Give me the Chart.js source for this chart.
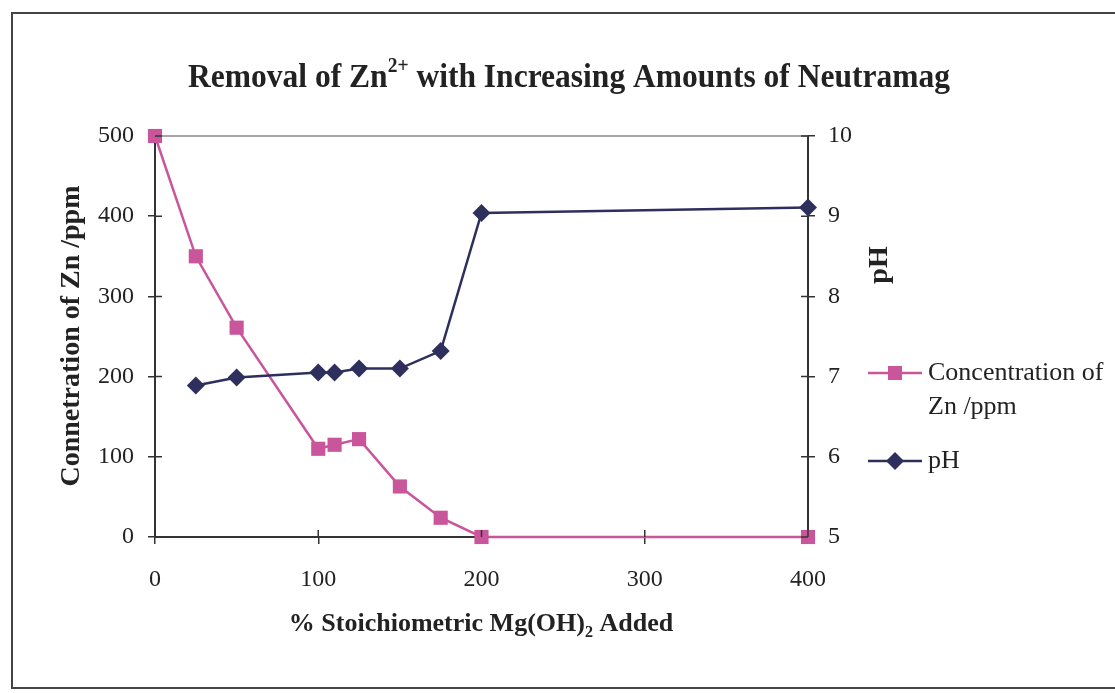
<!DOCTYPE html>
<html>
<head>
<meta charset="utf-8">
<script src="https://cdn.jsdelivr.net/npm/chart.js@4.4.1/dist/chart.umd.min.js"></script>
<style>
  html, body { margin: 0; padding: 0; background: #fff; }
  #wrap { position: relative; width: 1115px; height: 693px; }
  #frame { position: absolute; left: 11px; top: 12px; width: 1120px; height: 677px; border: 2px solid #444; border-right: none; box-sizing: border-box; }
  canvas { position: absolute; left: 0; top: 0; }
</style>
</head>
<body>
<div id="wrap">
  <div id="frame"></div>
  <canvas id="chart" width="1115" height="693"></canvas>
</div>
<script>
// data
const pctAdded = [0, 25, 50, 100, 110, 125, 150, 175, 200, 400];
const zincConc = [500, 350, 261, 110, 115, 122, 63, 24, 0, 0];
const phAdded = [25, 50, 100, 110, 125, 150, 175, 200, 400];
const phValues = [6.89, 6.99, 7.05, 7.05, 7.1, 7.1, 7.32, 9.04, 9.11];

const xTicks = [0, 100, 200, 300, 400];
const concTicks = [0, 100, 200, 300, 400, 500];
const phTicks = [5, 6, 7, 8, 9, 10];

const pink = '#C9559B';
const navy = '#2F2F5E';
const axisColor = '#333';
const serif = "'Liberation Serif', 'DejaVu Serif', serif";

const concPoints = pctAdded.map((x, i) => ({ x: x, y: zincConc[i] }));
const phPoints = phAdded.map((x, i) => ({ x: x, y: phValues[i] }));

// bold text with a super/subscript part, squeezed to a given width
function drawMixed(ctx, parts, cx, cy, size, width) {
  let total = 0;
  parts.forEach(p => {
    ctx.font = 'bold ' + (p.s ? size * 0.62 : size) + 'px ' + serif;
    p.w = ctx.measureText(p.t).width;
    total += p.w;
  });
  const k = width ? width / total : 1;
  ctx.save();
  ctx.translate(cx - total * k / 2, cy);
  ctx.scale(k, 1);
  let x = 0;
  ctx.textAlign = 'left';
  ctx.textBaseline = 'alphabetic';
  parts.forEach(p => {
    ctx.font = 'bold ' + (p.s ? size * 0.62 : size) + 'px ' + serif;
    let dy = 0;
    if (p.s === 'sup') dy = -size * 0.45;
    if (p.s === 'sub') dy = size * 0.22;
    ctx.fillText(p.t, x, dy);
    x += p.w;
  });
  ctx.restore();
}

const extras = {
  id: 'extras',
  afterDraw(chart) {
    const ctx = chart.ctx;
    const a = chart.chartArea;
    const sx = chart.scales.x, sy = chart.scales.y, sy2 = chart.scales.y2;
    ctx.save();
    // top border of plot area
    ctx.strokeStyle = '#888';
    ctx.lineWidth = 1.5;
    ctx.beginPath();
    ctx.moveTo(a.left, a.top);
    ctx.lineTo(a.right, a.top);
    ctx.stroke();
    // inner half of cross tick marks
    ctx.strokeStyle = axisColor;
    ctx.lineWidth = 1.5;
    ctx.beginPath();
    concTicks.forEach(v => { const y = sy.getPixelForValue(v); ctx.moveTo(a.left, y); ctx.lineTo(a.left + 7, y); });
    phTicks.forEach(v => { const y = sy2.getPixelForValue(v); ctx.moveTo(a.right, y); ctx.lineTo(a.right - 7, y); });
    xTicks.forEach(v => { const x = sx.getPixelForValue(v); ctx.moveTo(x, a.bottom); ctx.lineTo(x, a.bottom - 7); });
    ctx.stroke();

    ctx.fillStyle = '#222';
    // title
    drawMixed(ctx, [
      { t: 'Removal of Zn' },
      { t: '2+', s: 'sup' },
      { t: ' with Increasing Amounts of Neutramag' }
    ], 569, 87, 33, 762);
    // x axis title
    drawMixed(ctx, [
      { t: '% Stoichiometric Mg(OH)' },
      { t: '2', s: 'sub' },
      { t: ' Added' }
    ], 481, 631, 26);
    // y axis titles, both read bottom to top
    ctx.font = 'bold 28px ' + serif;
    ctx.textAlign = 'center';
    ctx.textBaseline = 'middle';
    ctx.save();
    ctx.translate(72, 336);
    ctx.rotate(-Math.PI / 2);
    ctx.fillText('Connetration of Zn /ppm', 0, 0);
    ctx.restore();
    ctx.save();
    ctx.translate(880, 265);
    ctx.rotate(-Math.PI / 2);
    ctx.fillText('pH', 0, 0);
    ctx.restore();

    // legend
    const items = [
      { ds: chart.data.datasets[0], y: 373, lines: ['Concentration of', 'Zn /ppm'] },
      { ds: chart.data.datasets[1], y: 461, lines: ['pH'] }
    ];
    items.forEach(it => {
      ctx.strokeStyle = it.ds.borderColor;
      ctx.lineWidth = 2.5;
      ctx.beginPath();
      ctx.moveTo(868, it.y);
      ctx.lineTo(922, it.y);
      ctx.stroke();
      ctx.fillStyle = it.ds.backgroundColor;
      ctx.beginPath();
      if (it.ds.pointStyle === 'rect') {
        ctx.rect(895 - 7, it.y - 7, 14, 14);
      } else {
        const r = it.ds.pointRadius;
        ctx.moveTo(895, it.y - r); ctx.lineTo(895 + r, it.y);
        ctx.lineTo(895, it.y + r); ctx.lineTo(895 - r, it.y);
        ctx.closePath();
      }
      ctx.fill();
      ctx.fillStyle = '#222';
      ctx.font = '26px ' + serif;
      ctx.textAlign = 'left';
      ctx.textBaseline = 'middle';
      it.lines.forEach((t, k) => ctx.fillText(t, 928, it.y + k * 34));
    });
    ctx.restore();
  }
};

new Chart(document.getElementById('chart'), {
  type: 'scatter',
  data: {
    datasets: [{
      label: 'Concentration of Zn /ppm',
      data: concPoints,
      showLine: true,
      yAxisID: 'y',
      borderColor: pink,
      backgroundColor: pink,
      borderWidth: 2.5,
      pointStyle: 'rect',
      pointRadius: 10,
      pointBorderWidth: 0,
      order: 2
    }, {
      label: 'pH',
      data: phPoints,
      showLine: true,
      yAxisID: 'y2',
      borderColor: navy,
      backgroundColor: navy,
      borderWidth: 2.5,
      pointStyle: 'rectRot',
      pointRadius: 9,
      pointBorderWidth: 0,
      order: 1
    }]
  },
  options: {
    responsive: false,
    animation: false,
    clip: false,
    layout: { padding: { top: 136, left: 0, right: 0, bottom: 0 } },
    plugins: {
      legend: { display: false },
      tooltip: { enabled: false }
    },
    scales: {
      x: {
        type: 'linear',
        min: 0, max: 400,
        afterBuildTicks: s => { s.ticks = xTicks.map(v => ({ value: v })); },
        afterFit: s => { s.height = 156; },
        grid: { drawOnChartArea: false, tickLength: 7, color: axisColor, lineWidth: 1.5 },
        border: { color: axisColor, width: 2 },
        ticks: { color: '#222', font: { family: serif, size: 24 }, padding: 21, maxRotation: 0 }
      },
      y: {
        position: 'left',
        min: 0, max: 500,
        afterBuildTicks: s => { s.ticks = concTicks.map(v => ({ value: v })); },
        afterFit: s => { s.width = 155; },
        grid: { drawOnChartArea: false, tickLength: 7, color: axisColor, lineWidth: 1.5 },
        border: { color: axisColor, width: 2 },
        ticks: { color: '#222', font: { family: serif, size: 24 }, padding: 14 }
      },
      y2: {
        position: 'right',
        min: 5, max: 10,
        afterBuildTicks: s => { s.ticks = phTicks.map(v => ({ value: v })); },
        afterFit: s => { s.width = 307; },
        grid: { drawOnChartArea: false, tickLength: 7, color: axisColor, lineWidth: 1.5 },
        border: { color: axisColor, width: 2 },
        ticks: { color: '#222', font: { family: serif, size: 24 }, padding: 13 }
      }
    }
  },
  plugins: [extras]
});
</script>
</body>
</html>
